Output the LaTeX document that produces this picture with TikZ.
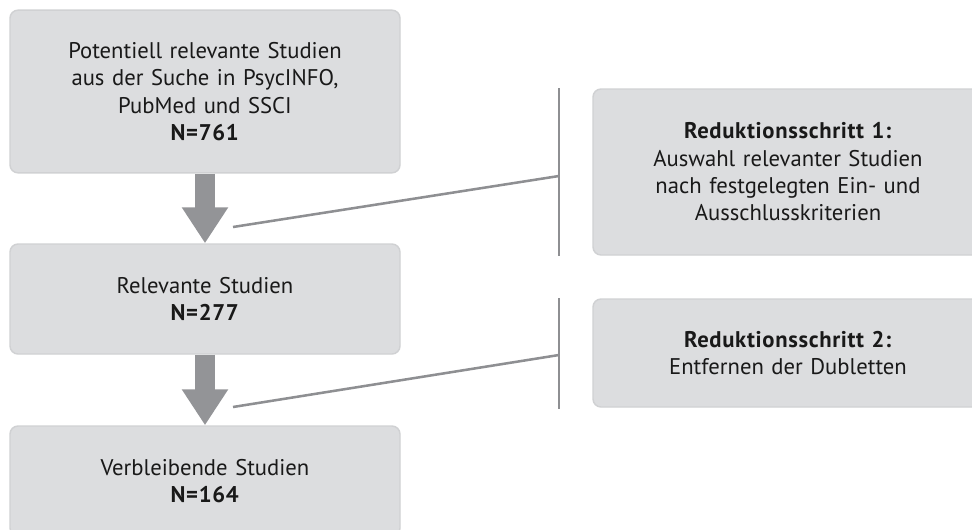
\documentclass[tikz,border=0pt]{standalone}
\usepackage{fontspec}
\setmainfont{PT Sans}[BoldFeatures={LetterSpace=3}]
\usetikzlibrary{arrows.meta,positioning}
\definecolor{boxfill}{HTML}{DCDDDF}
\definecolor{boxline}{HTML}{D0D1D3}
\definecolor{arrowgray}{HTML}{939497}
\definecolor{linegray}{HTML}{8E8F92}
\tikzset{
  stepbox/.style={draw=boxline,fill=boxfill,line width=1.1pt,rounded corners=6pt,
    minimum width=292.5pt,text width=280pt,align=center,
    font=\fontsize{17}{20.5}\selectfont,text=black!90},
  flowarrow/.style={draw=arrowgray,line width=15pt,
    -{Triangle[width=33pt,length=27pt,fill=arrowgray]}},
  bracket/.style={draw=linegray,line width=1.9pt}
}
\begin{document}
\begin{tikzpicture}[x=0.75pt,y=-0.75pt]
  \useasboundingbox (0,0) rectangle (972,529);
  \clip (0,0) rectangle (972,529);
  % left column
  \node[stepbox,minimum height=122pt] (all) at (205,91.5)
    {Potentiell relevante Studien\\aus der Suche in PsycINFO,\\PubMed und SSCI\\\textbf{N=761}};
  \node[stepbox,minimum height=82.5pt] (rel) at (205,299)
    {Relevante Studien\\\textbf{N=277}};
  \node[stepbox,minimum height=82.5pt] (rest) at (205,481)
    {Verbleibende Studien\\\textbf{N=164}};
  \draw[flowarrow] (all.south) -- (rel.north);
  \draw[flowarrow] (rel.south) -- (rest.north);
  % right column
  \node[stepbox,minimum height=124.5pt] (red1) at (788,172)
    {\textbf{Reduktionsschritt 1:}\\Auswahl relevanter Studien\\nach festgelegten Ein- und\\Ausschlusskriterien};
  \node[stepbox,minimum height=81pt] (red2) at (788,353)
    {\textbf{Reduktionsschritt 2:}\\Entfernen der Dubletten};
  % brackets
  \coordinate (b1top) at (559,88);
  \coordinate (b1bot) at (559,256);
  \coordinate (b1mid) at (559,176);
  \coordinate (a1) at (233,227);
  \coordinate (b2top) at (559,298);
  \coordinate (b2bot) at (559,409);
  \coordinate (b2mid) at (559,355);
  \coordinate (a2) at (233,407);
  \draw[bracket] (b1top) -- (b1bot);
  \draw[bracket] (a1) -- (b1mid);
  \draw[bracket] (b2top) -- (b2bot);
  \draw[bracket] (a2) -- (b2mid);
\end{tikzpicture}
\end{document}
